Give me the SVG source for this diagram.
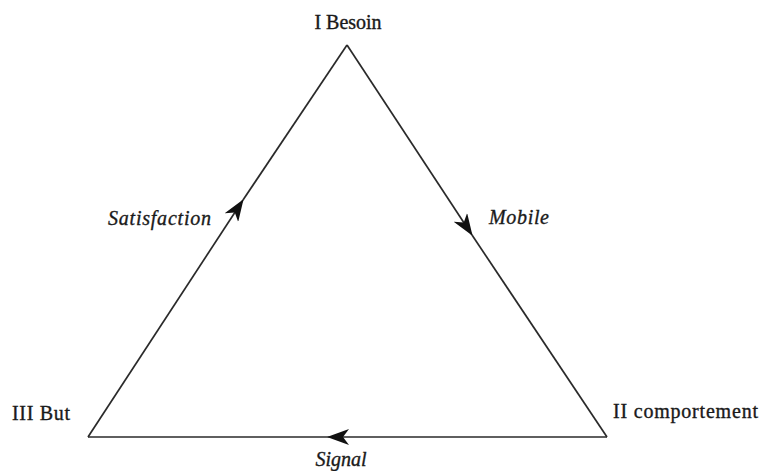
<svg xmlns="http://www.w3.org/2000/svg" width="760" height="471" viewBox="0 0 760 471">
  <style>
    .lbl { font-family: "Liberation Serif", "Times New Roman", serif; font-size: 20px; fill: #1a1a1a; stroke: #1a1a1a; stroke-width: 0.35; }
    .it { font-style: italic; }
    .edge { fill: none; stroke: #2a2a2a; stroke-width: 1.7; }
  </style>
  <defs>
    <marker id="arrow" markerWidth="22" markerHeight="16" refX="21" refY="8" orient="auto" markerUnits="userSpaceOnUse">
      <path d="M0,0 L22,8 L0,16 L6,8 Z" fill="#111"/>
    </marker>
  </defs>
  <rect width="760" height="471" fill="#ffffff"/>

  <!-- triangle sides, each with a direction arrow part-way along -->
  <g id="connectors">
    <!-- III But -> I Besoin : Satisfaction -->
    <path class="edge" d="M88,437 L243,200" marker-end="url(#arrow)"/>
    <path class="edge" d="M243,200 L347,45"/>
    <!-- I Besoin -> II comportement : Mobile -->
    <path class="edge" d="M347,45 L472,235" marker-end="url(#arrow)"/>
    <path class="edge" d="M472,235 L607,437"/>
    <!-- II comportement -> III But : Signal -->
    <path class="edge" d="M607,437 L328,437" marker-end="url(#arrow)"/>
    <path class="edge" d="M328,437 L88,437"/>
  </g>

  <g id="besoin">
    <text class="lbl" x="348" y="29" text-anchor="middle">I Besoin</text>
  </g>
  <g id="comportement">
    <text class="lbl" x="613" y="418" textLength="145">II comportement</text>
  </g>
  <g id="but">
    <text class="lbl" x="12" y="420" textLength="58">III But</text>
  </g>

  <g id="edge-labels">
    <text class="lbl it" x="108" y="225" textLength="103">Satisfaction</text>
    <text class="lbl it" x="489" y="224" textLength="60">Mobile</text>
    <text class="lbl it" x="341" y="466" text-anchor="middle">Signal</text>
  </g>
</svg>
